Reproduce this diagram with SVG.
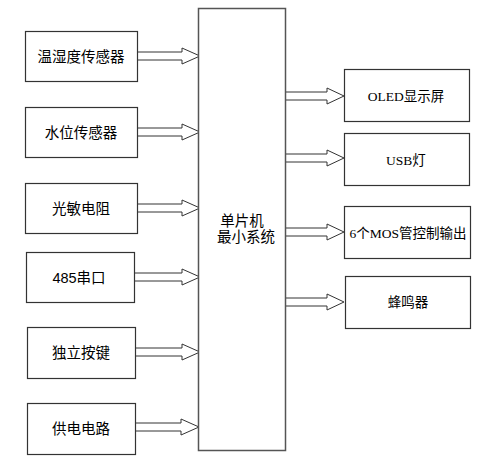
<svg xmlns="http://www.w3.org/2000/svg" width="500" height="462" viewBox="0 0 500 462">
<style>
.box{fill:#fff;stroke:#333;stroke-width:1.2}
.main{fill:#fff;stroke:#555;stroke-width:1.5}
.arr{fill:#fff;stroke:#333;stroke-width:1}
text{font-family:"Liberation Sans","Noto Sans CJK SC",sans-serif;font-size:14.5px;fill:#000;text-anchor:middle}
.r{font-size:13.5px;font-family:"Liberation Serif","Noto Sans CJK SC",serif}
</style>
<rect width="500" height="462" fill="#fff"/>
<g id="connectors">
<polygon class="arr" points="137,52 182,52 182,48 200,56 182,64 182,60 137,60"/>
<polygon class="arr" points="137,128 182,128 182,124 200,132 182,140 182,136 137,136"/>
<polygon class="arr" points="137,204 182,204 182,200 200,208 182,216 182,212 137,212"/>
<polygon class="arr" points="134,273 182,273 182,269 200,277 182,285 182,281 134,281"/>
<polygon class="arr" points="135,348 182,348 182,344 200,352 182,360 182,356 135,356"/>
<polygon class="arr" points="135,423 181,423 181,419 199,427 181,435 181,431 135,431"/>
<polygon class="arr" points="285,92 327,92 327,88 344,96 327,104 327,100 285,100"/>
<polygon class="arr" points="285,154 327,154 327,150 344,158 327,166 327,162 285,162"/>
<polygon class="arr" points="285,228 327,228 327,224 344,232 327,240 327,236 285,236"/>
<polygon class="arr" points="285,298 327,298 327,294 344,302 327,310 327,306 285,306"/>
</g>
<g id="mcu"><rect class="main" x="198.5" y="8.5" width="87" height="442"/>
<text x="242" y="226">单片机</text>
<text x="246" y="242">最小系统</text></g>
<g id="n1"><rect class="box" x="25.5" y="31.5" width="112" height="50"/><text x="81" y="62">温湿度传感器</text></g>
<g id="n2"><rect class="box" x="25.5" y="107.5" width="112" height="50"/><text x="81" y="138">水位传感器</text></g>
<g id="n3"><rect class="box" x="25.5" y="183.5" width="112" height="50"/><text x="81" y="214">光敏电阻</text></g>
<g id="n4"><rect class="box" x="26.5" y="252.5" width="108" height="50"/><text x="79" y="283">485串口</text></g>
<g id="n5"><rect class="box" x="27.5" y="327.5" width="108" height="51"/><text x="81" y="358">独立按键</text></g>
<g id="n6"><rect class="box" x="27.5" y="403.5" width="108" height="51"/><text x="81" y="434">供电电路</text></g>
<g id="o1"><rect class="box" x="344.5" y="69.5" width="125" height="52"/><text class="r" x="406" y="101">OLED显示屏</text></g>
<g id="o2"><rect class="box" x="344.5" y="133.5" width="125" height="52"/><text class="r" x="406" y="165">USB灯</text></g>
<g id="o3"><rect class="box" x="344.5" y="206.5" width="126" height="52"/><text class="r" x="408" y="238">6个MOS管控制输出</text></g>
<g id="o4"><rect class="box" x="345.5" y="276.5" width="125" height="52"/><text class="r" x="408" y="307">蜂鸣器</text></g>
</svg>
